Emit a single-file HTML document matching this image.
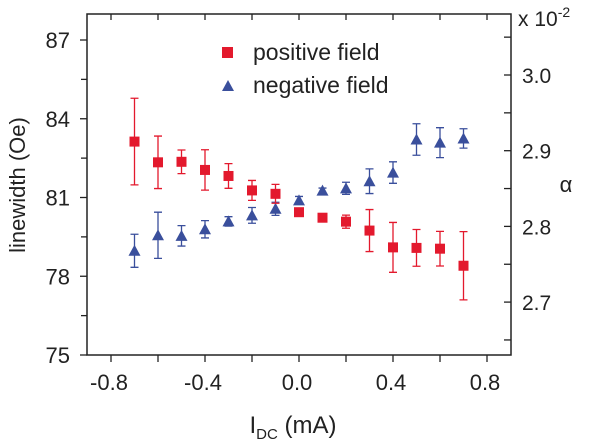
<!DOCTYPE html>
<html><head><meta charset="utf-8"><style>
body{margin:0;background:#fff;}
svg{display:block;font-family:"Liberation Sans",sans-serif;}
</style></head><body>
<svg id="chart" width="600" height="441" viewBox="0 0 600 441">
<g id="axes"></g>
<g id="marks"></g>
<g>
 <rect x="222" y="47" width="11" height="11" fill="#e3192d"/>
 <text x="253" y="60" font-size="23" fill="#222">positive field</text>
 <polygon points="228,80 222,91 234,91" fill="#3a4f9c"/>
 <text x="253" y="93" font-size="23" fill="#222">negative field</text>
</g>
<text transform="translate(25,185) rotate(-90)" text-anchor="middle" font-size="22" fill="#222">linewidth (Oe)</text>
<text x="293" y="433" text-anchor="middle" font-size="24" fill="#222">I<tspan font-size="15" dy="6">DC</tspan><tspan dy="-6"> (mA)</tspan></text>
<text x="566" y="192" text-anchor="middle" font-size="22" fill="#222">α</text>
<text x="518" y="26" font-size="21" fill="#222">x 10<tspan font-size="14" dy="-9">-2</tspan></text>
</svg>
<script>
const xs = [-0.7,-0.6,-0.5,-0.4,-0.3,-0.2,-0.1,0.0,0.1,0.2,0.3,0.4,0.5,0.6,0.7];
const posVals = [83.13,82.34,82.36,82.05,81.82,81.27,81.14,80.44,80.23,80.08,79.74,79.10,79.08,79.05,78.40];
const posErr = [1.65,1.0,0.45,0.77,0.47,0.38,0.36,0.1,0.15,0.25,0.8,0.95,0.7,0.66,1.3];
const negVals = [78.97,79.56,79.54,79.79,80.09,80.32,80.57,80.89,81.26,81.35,81.62,81.95,83.21,83.09,83.25];
const negErr = [0.63,0.88,0.39,0.33,0.18,0.3,0.25,0.15,0.1,0.23,0.47,0.41,0.6,0.57,0.37];
const xTicks = [-0.8,-0.6,-0.4,-0.2,0.0,0.2,0.4,0.6,0.8];
const xTickLabels = ["-0.8","-0.4","0.0","0.4","0.8"];
const yTicks = [75,78,81,84,87];
const yMinorTicks = [76.5,79.5,82.5,85.5];
const alphaTicks = [2.7,2.8,2.9,3.0];

const L=87,R=511,T=14,B=355;
const xS=v=>299+v*235;
const yS=v=>355-(v-75)*26.25;
const aS=a=>75+(3.0-a)*757;
const NS="http://www.w3.org/2000/svg";
function mk(p,tag,at){const e=document.createElementNS(NS,tag);for(const k in at)e.setAttribute(k,at[k]);p.appendChild(e);return e;}
const ax=document.getElementById('axes');
let fr=mk(ax,'rect',{x:L,y:T,width:R-L,height:B-T,fill:'none',stroke:'#222','stroke-width':1.5});


xTicks.forEach(v=>{const x=xS(v);
 let t=mk(ax,'line',{x1:x,x2:x,y1:B,y2:B+7,stroke:'#222','stroke-width':1.3});
 
 
 let t2=mk(ax,'line',{x1:x,x2:x,y1:T,y2:T+6,stroke:'#222','stroke-width':1.3});
 
 
});
xTickLabels.forEach(s=>{
 let t=mk(ax,'text',{x:xS(parseFloat(s))-2,y:390,'text-anchor':'middle','font-size':22,fill:'#222'});t.textContent=s;
 
 
});
yTicks.forEach(v=>{const y=yS(v);
 let t=mk(ax,'line',{x1:L-7,x2:L,y1:y,y2:y,stroke:'#222','stroke-width':1.3});
 
 
 let lb=mk(ax,'text',{x:70,y:y+8,'text-anchor':'end','font-size':22,fill:'#222'});lb.textContent=v;
 
 
});
yMinorTicks.forEach(v=>{const y=yS(v);
 let t=mk(ax,'line',{x1:L-6,x2:L,y1:y,y2:y,stroke:'#222','stroke-width':1.3});
 
 
});
for(let a=2.65;a<=3.051;a+=0.05){const y=aS(a);
 let t=mk(ax,'line',{x1:R-7,x2:R,y1:y,y2:y,stroke:'#222','stroke-width':1.3});
 
 
}
alphaTicks.forEach(a=>{
 let lb=mk(ax,'text',{x:522,y:aS(a)+8,'font-size':21,fill:'#222'});lb.textContent=a.toFixed(1);
 
 
});
const mg=document.getElementById('marks');
function err(x,v,e,c){const y1=yS(v+e),y2=yS(v-e);
 let g=mk(mg,'path',{d:`M${x},${y1}V${y2}M${x-4},${y1}H${x+4}M${x-4},${y2}H${x+4}`,stroke:c,'stroke-width':1.3,fill:'none'});
 
 
}
xs.forEach((v,i)=>{const x=xS(v);
 err(x,negVals[i],negErr[i],'#3a4f9c');
 const y=yS(negVals[i]);
 let p=mk(mg,'polygon',{points:`${x},${y-6} ${x-6},${y+5} ${x+6},${y+5}`,fill:'#3a4f9c'});
 
 
});
xs.forEach((v,i)=>{const x=xS(v);
 err(x,posVals[i],posErr[i],'#e3192d');
 const y=yS(posVals[i]);
 let r=mk(mg,'rect',{x:x-5,y:y-5,width:10,height:10,fill:'#e3192d'});
 
 
});
</script>
</body></html>
